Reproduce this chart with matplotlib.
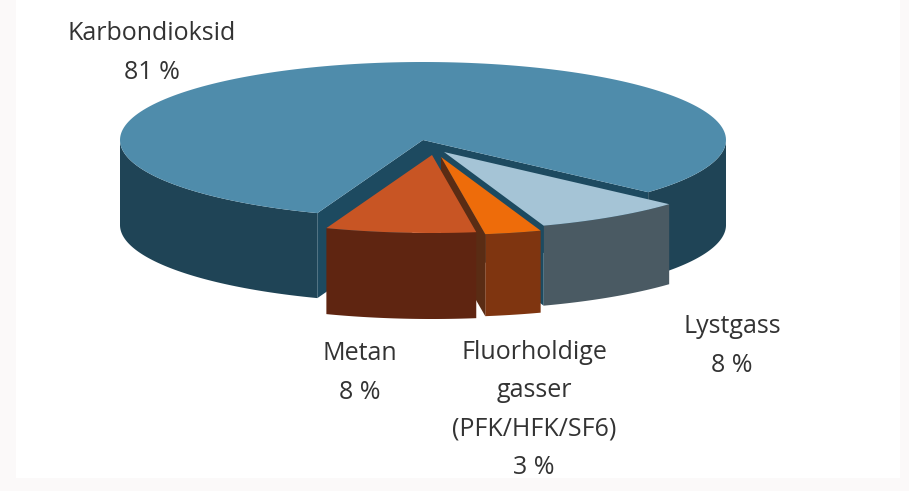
import numpy as np
import matplotlib
matplotlib.use("Agg")
import matplotlib.pyplot as plt
from matplotlib.patches import Polygon, Rectangle

plt.rcParams['font.family'] = ['Open Sans', 'DejaVu Sans']

# share of emissions per gas, main slice first, going counter-clockwise
gases = ['Karbondioksid', 'Metan', 'Fluorholdige\ngasser\n(PFK/HFK/SF6)', 'Lystgass']
shares = [81, 8, 3, 8]

top_colors = ['#4f8cab', '#c85524', '#ee6c0a', '#a5c4d6']
side_colors = ['#1f4456', '#5f2511', '#7f3510', '#4a5a63']
wall_colors = ['#1d4a60', '#1d4a60', '#5a2c14', '#1d4a60']

# pie centre and radii in pixels, tilted view
cx, cy = 423, 140
rx, ry = 303, 78
start_angle = -42

# how far each slice is pulled out, and how thick it is
offsets = [(0, 0), (9, 15), (18, 17), (21, 12)]
depths = [85, 86, 82, 80]

label_pos = [(152, 53), (360, 373), (534, 410), (732, 346)]

fig = plt.figure(figsize=(9.09, 4.91), dpi=100, facecolor='#fbf9f9')
ax = fig.add_axes([0, 0, 1, 1])
ax.set_xlim(0, 909)
ax.set_ylim(491, 0)
ax.axis('off')
ax.add_patch(Rectangle((16, 0), 884, 478, fc='white', ec='none'))


def arc(x0, y0, a1, a2):
    t = np.radians(np.linspace(a1, a2, 200))
    return np.column_stack([x0 + rx * np.cos(t), y0 - ry * np.sin(t)])


def draw_slice(i, a1, a2):
    x0 = cx + offsets[i][0]
    y0 = cy + offsets[i][1]
    d = np.array([0, depths[i]])
    apex = np.array([x0, y0])

    # outer rim, only the part facing the viewer (180-360 degrees)
    for lo in [-180, 180]:
        b1, b2 = max(a1, lo), min(a2, lo + 180)
        if b1 < b2:
            edge = arc(x0, y0, b1, b2)
            rim = np.vstack([edge, (edge + d)[::-1]])
            ax.add_patch(Polygon(rim, fc=side_colors[i], ec='none'))

    # cut faces running back to the apex, if they face the viewer
    edge = arc(x0, y0, a1, a2)
    if np.sin(np.radians(a1 - 90)) < 0:
        wall = [apex, edge[0], edge[0] + d, apex + d]
        ax.add_patch(Polygon(wall, fc=wall_colors[i], ec='none'))
    if np.sin(np.radians(a2 + 90)) < 0:
        wall = [apex, edge[-1], edge[-1] + d, apex + d]
        ax.add_patch(Polygon(wall, fc=wall_colors[i], ec='none'))

    ax.add_patch(Polygon(np.vstack([apex, edge]), fc=top_colors[i], ec='none'))


angles = start_angle + np.concatenate([[0], np.cumsum(shares)]) * 3.6

# back to front so the pulled out slices cover the notch
for i in [0, 3, 2, 1]:
    draw_slice(i, angles[i], angles[i + 1])

for name, val, (x, y) in zip(gases, shares, label_pos):
    ax.text(x, y, f"{name}\n{val} %", ha='center', va='center', fontsize=18,
            color='#333333', linespacing=1.69)

fig.savefig('out.png', dpi=100, facecolor=fig.get_facecolor())
